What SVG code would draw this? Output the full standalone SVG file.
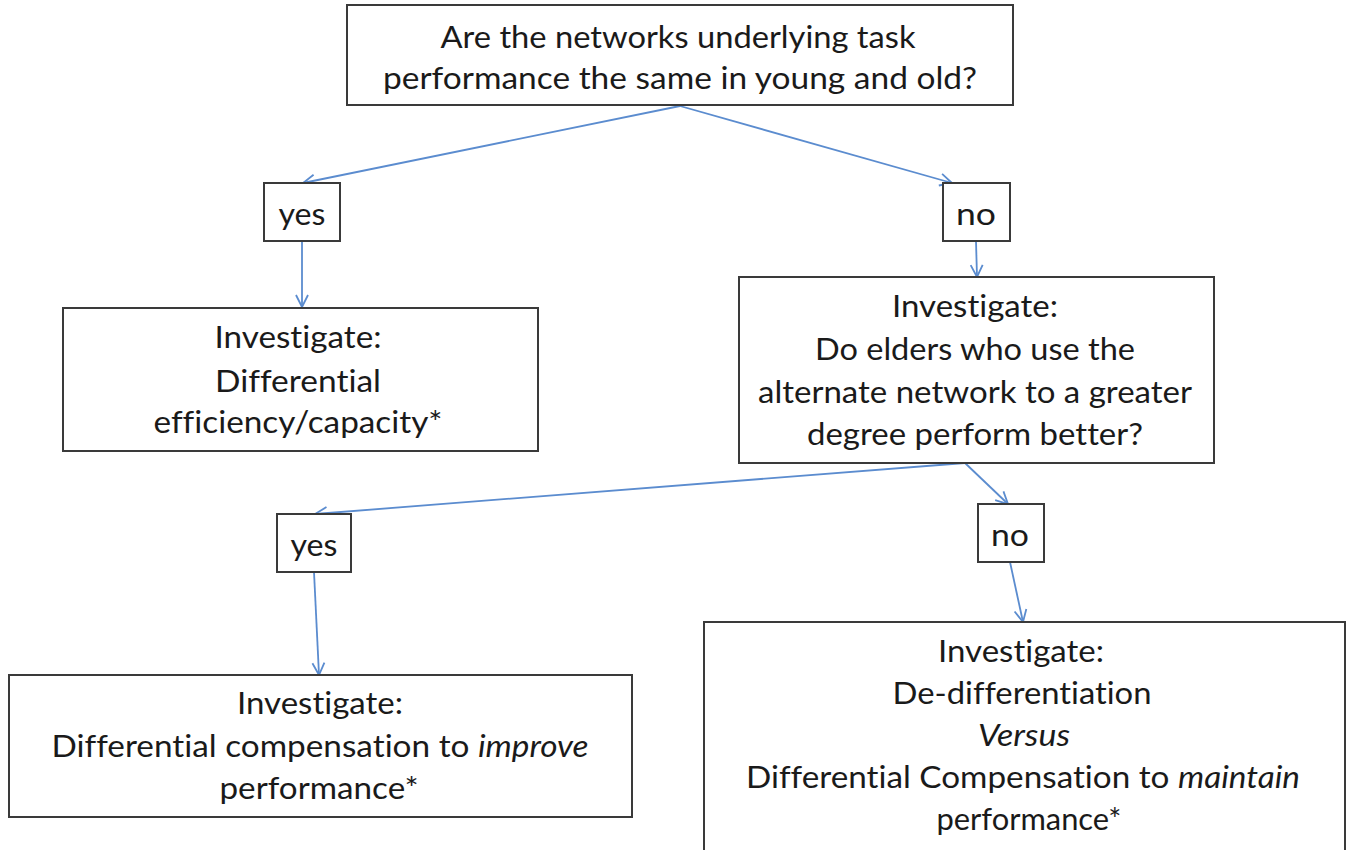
<svg xmlns="http://www.w3.org/2000/svg" width="1351" height="850" viewBox="0 0 1351 850">
<style>
.box{fill:#fff;stroke:#3a3a3a;stroke-width:2}
.t{font-family:Lato,"Open Sans","Liberation Sans",sans-serif;font-size:30px;fill:#1a1a1a;text-anchor:middle;font-variant-ligatures:none;font-feature-settings:"liga" 0,"dlig" 0}
.c{stroke:#5b8ccf;stroke-width:1.8;fill:none;marker-end:url(#ah)}
</style>
<defs>
<marker id="ah" markerUnits="userSpaceOnUse" markerWidth="16" markerHeight="16" viewBox="-14 -8 16 16" refX="0" refY="0" orient="auto">
<path d="M-12,-6 L0,0 L-12,6" fill="none" stroke="#5b8ccf" stroke-width="1.8"/>
</marker>
</defs>
<rect width="1351" height="850" fill="#fff"/>
<g id="connectors">
<line class="c" x1="680" y1="106" x2="303" y2="183"/>
<line class="c" x1="680" y1="106" x2="952" y2="183"/>
<line class="c" x1="302" y1="241" x2="302" y2="307"/>
<line class="c" x1="976" y1="241" x2="977" y2="277"/>
<line class="c" x1="965" y1="463" x2="315" y2="514"/>
<line class="c" x1="965" y1="463" x2="1008" y2="504"/>
<line class="c" x1="314" y1="572" x2="319" y2="675"/>
<line class="c" x1="1010" y1="562" x2="1023" y2="622"/>
</g>
<g id="q1">
<rect class="box" x="347" y="5" width="666" height="100"/>
<text class="t" x="678" y="48" textLength="475" lengthAdjust="spacingAndGlyphs">Are the networks underlying task</text>
<text class="t" x="680" y="89" textLength="594" lengthAdjust="spacingAndGlyphs">performance the same in young and old?</text>
</g>
<g id="yes1">
<rect class="box" x="264" y="183" width="76" height="58"/>
<text class="t" x="302" y="225" textLength="47" lengthAdjust="spacingAndGlyphs">yes</text>
</g>
<g id="no1">
<rect class="box" x="943" y="183" width="67" height="58"/>
<text class="t" x="976" y="225" textLength="40" lengthAdjust="spacingAndGlyphs">no</text>
</g>
<g id="inv1">
<rect class="box" x="63" y="308" width="475" height="143"/>
<text class="t" x="298" y="348" textLength="167" lengthAdjust="spacingAndGlyphs">Investigate:</text>
<text class="t" x="298" y="392" textLength="166" lengthAdjust="spacingAndGlyphs">Differential</text>
<text class="t" x="298" y="433" textLength="289" lengthAdjust="spacingAndGlyphs">efficiency/capacity*</text>
</g>
<g id="inv2">
<rect class="box" x="739" y="277" width="475" height="186"/>
<text class="t" x="975" y="317" textLength="166" lengthAdjust="spacingAndGlyphs">Investigate:</text>
<text class="t" x="975" y="360" textLength="320" lengthAdjust="spacingAndGlyphs">Do elders who use the</text>
<text class="t" x="975" y="403" textLength="434" lengthAdjust="spacingAndGlyphs">alternate network to a greater</text>
<text class="t" x="975" y="445" textLength="336" lengthAdjust="spacingAndGlyphs">degree perform  better?</text>
</g>
<g id="yes2">
<rect class="box" x="277" y="514" width="74" height="58"/>
<text class="t" x="314" y="556" textLength="47" lengthAdjust="spacingAndGlyphs">yes</text>
</g>
<g id="no2">
<rect class="box" x="978" y="504" width="66" height="58"/>
<text class="t" x="1010" y="546" textLength="38" lengthAdjust="spacingAndGlyphs">no</text>
</g>
<g id="inv3">
<rect class="box" x="9" y="675" width="623" height="142"/>
<text class="t" x="320" y="714" textLength="166" lengthAdjust="spacingAndGlyphs">Investigate:</text>
<text class="t" x="320" y="757" textLength="537" lengthAdjust="spacingAndGlyphs">Differential compensation to <tspan font-style="italic">improve</tspan></text>
<text class="t" x="319" y="799" textLength="199" lengthAdjust="spacingAndGlyphs">performance*</text>
</g>
<g id="inv4">
<rect class="box" x="704" y="622" width="641" height="240"/>
<text class="t" x="1021" y="662" textLength="166" lengthAdjust="spacingAndGlyphs">Investigate:</text>
<text class="t" x="1022" y="704" textLength="259" lengthAdjust="spacingAndGlyphs">De-differentiation</text>
<text class="t" x="1024" y="746" textLength="92" lengthAdjust="spacingAndGlyphs" font-style="italic">Versus</text>
<text class="t" x="1023" y="788" textLength="554" lengthAdjust="spacingAndGlyphs">Differential Compensation to <tspan font-style="italic">maintain</tspan></text>
<text class="t" x="1029" y="830" textLength="185" lengthAdjust="spacingAndGlyphs">performance*</text>
</g>
</svg>
